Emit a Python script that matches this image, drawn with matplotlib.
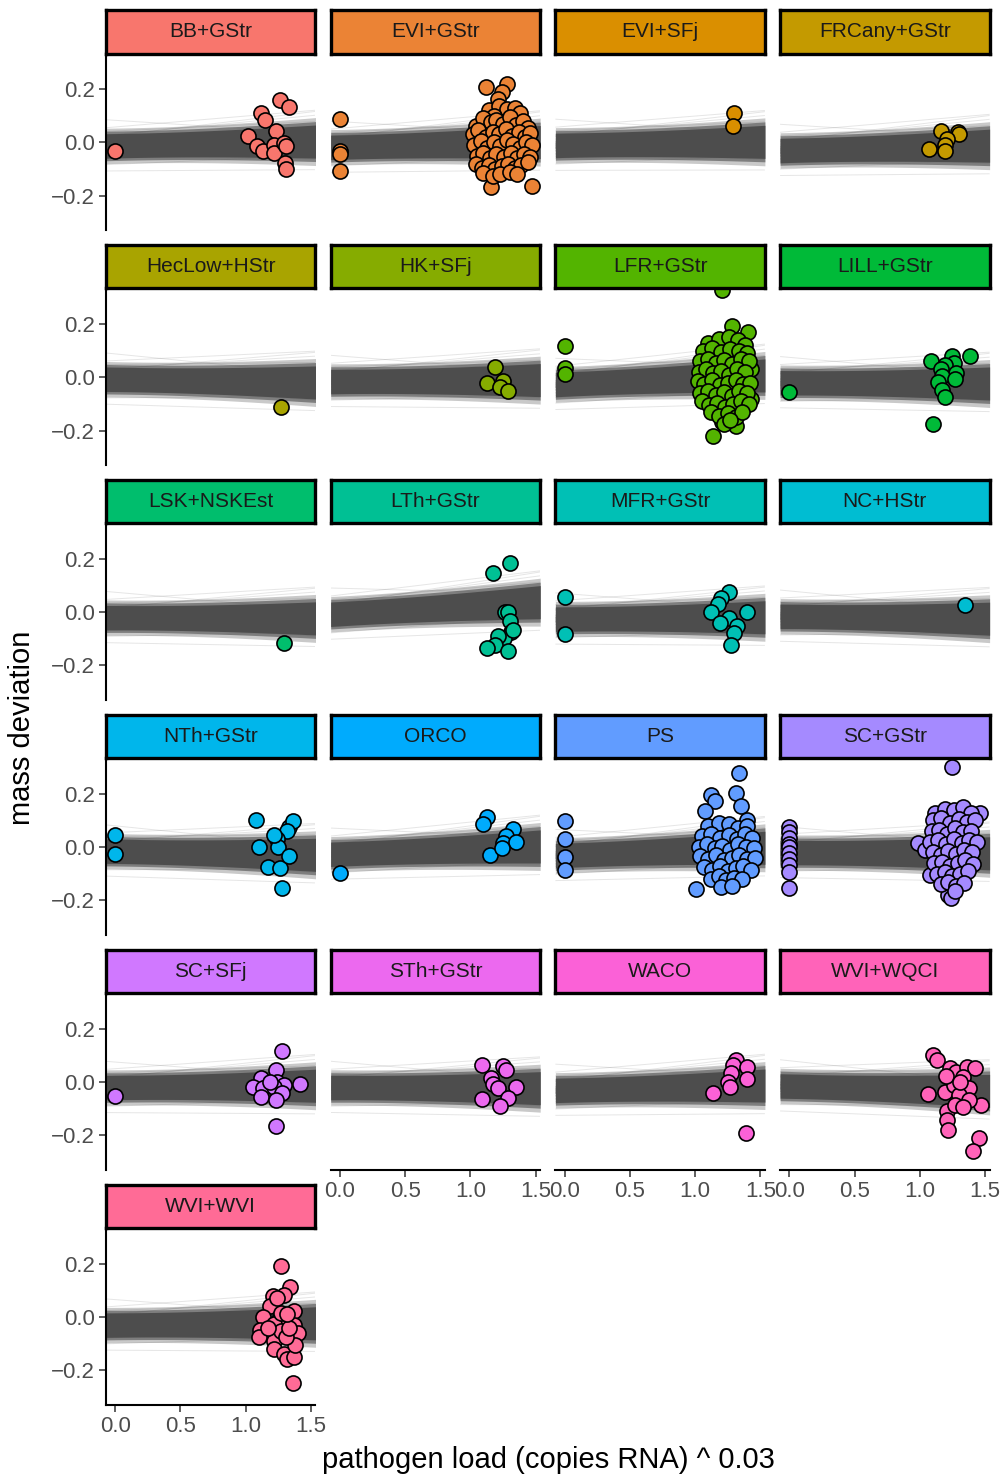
import numpy as np
import matplotlib
matplotlib.use("Agg")
import matplotlib.pyplot as plt
from matplotlib.collections import LineCollection

plt.rcParams["font.family"] = ["Liberation Sans", "DejaVu Sans"]

groups = ["BB+GStr", "EVI+GStr", "EVI+SFj", "FRCany+GStr", "HecLow+HStr", "HK+SFj",
          "LFR+GStr", "LILL+GStr", "LSK+NSKEst", "LTh+GStr", "MFR+GStr", "NC+HStr",
          "NTh+GStr", "ORCO", "PS", "SC+GStr", "SC+SFj", "STh+GStr", "WACO",
          "WVI+WQCI", "WVI+WVI"]

# observed points (pathogen load ^ 0.03, mass deviation)
bb_gstr = [(0.0, -0.032), (1.02, 0.023), (1.09, -0.014), (1.13, -0.032), (1.12, 0.112),
           (1.145, 0.083), (1.23, 0.044), (1.26, 0.159), (1.33, 0.132), (1.22, -0.010),
           (1.22, -0.038), (1.29, -0.001), (1.31, -0.014), (1.30, -0.078), (1.31, -0.10)]
evi_gstr = [(0.0, 0.089), (0.0, -0.032), (0.0, -0.044), (0.0, -0.106),
            (1.12, 0.209), (1.28, 0.221), (1.24, 0.19), (1.21, 0.162), (1.16, -0.168), (1.47, -0.164),
            (1.14, 0.12), (1.22, 0.135), (1.28, 0.125), (1.34, 0.13), (1.38, 0.11), (1.18, 0.10),
            (1.04, 0.06), (1.10, 0.09), (1.16, 0.075), (1.20, 0.085), (1.25, 0.07), (1.30, 0.095),
            (1.35, 0.065), (1.40, 0.08), (1.44, 0.055),
            (1.02, 0.03), (1.06, 0.045), (1.12, 0.02), (1.17, 0.04), (1.22, 0.03), (1.27, 0.05),
            (1.32, 0.025), (1.37, 0.04), (1.42, 0.02), (1.46, 0.035),
            (1.03, -0.01), (1.08, 0.005), (1.13, -0.02), (1.18, 0.0), (1.23, -0.015), (1.28, 0.01),
            (1.33, -0.005), (1.38, -0.02), (1.43, 0.0), (1.47, -0.01),
            (1.05, -0.05), (1.10, -0.04), (1.15, -0.06), (1.20, -0.045), (1.26, -0.055), (1.31, -0.04),
            (1.36, -0.06), (1.41, -0.045), (1.46, -0.055),
            (1.04, -0.08), (1.09, -0.095), (1.14, -0.085), (1.19, -0.1), (1.24, -0.09), (1.29, -0.08),
            (1.34, -0.095), (1.39, -0.085), (1.44, -0.075),
            (1.10, -0.115), (1.17, -0.125), (1.23, -0.12), (1.30, -0.11), (1.36, -0.12)]
evi_sfj = [(1.30, 0.112), (1.29, 0.060)]
frcany_gstr = [(1.16, 0.043), (1.29, 0.041), (1.30, 0.030), (1.21, 0.014), (1.07, -0.026),
               (1.19, -0.009), (1.19, -0.033)]
heclow_hstr = [(1.27, -0.112)]
hk_sfj = [(1.185, 0.038), (1.125, -0.020), (1.25, -0.014), (1.225, -0.038), (1.285, -0.051)]
lfr_gstr = [(0.0, 0.119), (0.0, 0.036), (0.0, 0.011),
            (1.21, 0.328), (1.136, -0.22), (1.284, 0.193), (1.405, 0.172), (1.317, -0.184),
            (1.204, -0.168), (1.43, 0.03), (1.425, -0.081),
            (1.10, 0.13), (1.18, 0.145), (1.26, 0.15), (1.33, 0.14), (1.38, 0.12),
            (1.06, 0.10), (1.13, 0.11), (1.20, 0.095), (1.27, 0.105), (1.34, 0.10), (1.40, 0.09),
            (1.04, 0.06), (1.10, 0.07), (1.16, 0.055), (1.22, 0.065), (1.28, 0.05), (1.35, 0.07), (1.41, 0.06),
            (1.03, 0.02), (1.08, 0.03), (1.14, 0.015), (1.20, 0.025), (1.26, 0.01), (1.32, 0.03), (1.38, 0.02),
            (1.02, -0.015), (1.07, -0.025), (1.13, -0.01), (1.19, -0.03), (1.25, -0.02), (1.31, -0.01),
            (1.37, -0.025), (1.42, -0.02),
            (1.04, -0.06), (1.10, -0.05), (1.16, -0.065), (1.22, -0.055), (1.28, -0.07), (1.34, -0.05), (1.40, -0.06),
            (1.05, -0.09), (1.11, -0.105), (1.17, -0.095), (1.23, -0.11), (1.29, -0.1), (1.35, -0.09), (1.41, -0.1),
            (1.12, -0.13), (1.18, -0.145), (1.25, -0.135), (1.31, -0.15), (1.36, -0.13),
            (1.22, -0.175), (1.27, -0.16)]
lill_gstr = [(0.0, -0.057), (1.085, 0.060), (1.385, 0.081), (1.25, 0.079), (1.26, 0.054), (1.19, 0.048),
             (1.28, 0.017), (1.16, 0.030), (1.17, 0.005), (1.27, -0.007), (1.14, -0.017), (1.17, -0.048),
             (1.19, -0.075), (1.10, -0.174)]
lsk_nskest = [(1.29, -0.114)]
lth_gstr = [(1.175, 0.147), (1.30, 0.183), (1.265, 0.001), (1.29, 0.001), (1.30, -0.033), (1.315, -0.073),
            (1.26, -0.098), (1.21, -0.091), (1.19, -0.122), (1.125, -0.135), (1.29, -0.144), (1.33, -0.067)]
mfr_gstr = [(0.0, 0.057), (0.0, -0.081), (1.26, 0.075), (1.20, 0.053), (1.175, 0.032), (1.125, -0.001),
            (1.40, -0.001), (1.26, -0.023), (1.19, -0.042), (1.325, -0.051), (1.30, -0.079), (1.275, -0.125)]
nc_hstr = [(1.35, 0.026)]
nth_gstr = [(0.0, 0.044), (0.0, -0.027), (1.08, 0.102), (1.10, 0.001), (1.17, -0.075), (1.26, -0.079),
            (1.28, -0.153), (1.33, 0.075), (1.36, 0.097), (1.32, 0.059), (1.24, 0.032), (1.25, 0.001),
            (1.33, -0.033), (1.22, 0.044)]
orco = [(0.0, -0.098), (1.125, 0.115), (1.10, 0.085), (1.325, 0.069), (1.275, 0.041), (1.25, 0.014),
        (1.35, 0.020), (1.15, -0.030), (1.24, -0.005)]
ps = [(0.0, 0.097), (0.0, 0.032), (0.0, -0.038), (0.0, -0.085),
      (1.34, 0.279), (1.31, 0.202), (1.125, 0.196), (1.15, 0.174), (1.077, 0.137), (1.01, -0.159),
      (1.35, 0.156), (1.40, 0.100),
      (1.10, 0.08), (1.18, 0.09), (1.26, 0.085), (1.33, 0.07), (1.40, 0.08),
      (1.05, 0.04), (1.12, 0.05), (1.19, 0.035), (1.26, 0.045), (1.32, 0.03), (1.38, 0.05), (1.44, 0.035),
      (1.03, 0.0), (1.09, 0.01), (1.15, -0.005), (1.21, 0.005), (1.27, -0.01), (1.33, 0.01), (1.39, 0.0), (1.45, -0.005),
      (1.04, -0.035), (1.10, -0.045), (1.16, -0.03), (1.22, -0.05), (1.28, -0.04), (1.34, -0.03), (1.40, -0.045), (1.46, -0.04),
      (1.07, -0.075), (1.13, -0.085), (1.19, -0.07), (1.25, -0.09), (1.31, -0.08), (1.37, -0.07), (1.43, -0.085),
      (1.12, -0.12), (1.18, -0.11), (1.24, -0.125), (1.30, -0.115), (1.36, -0.12),
      (1.20, -0.15), (1.28, -0.145)]
sc_gstr = [(0.0, 0.075), (0.0, 0.055), (0.0, 0.034), (0.0, 0.010), (0.0, -0.001), (0.0, -0.021),
           (0.0, -0.045), (0.0, -0.067), (0.0, -0.095), (0.0, -0.153),
           (1.25, 0.30), (1.46, 0.127), (0.99, 0.014), (1.04, -0.009), (1.08, -0.104), (1.22, -0.178),
           (1.12, 0.13), (1.19, 0.145), (1.26, 0.14), (1.33, 0.15), (1.39, 0.13),
           (1.10, 0.10), (1.16, 0.11), (1.23, 0.09), (1.30, 0.105), (1.36, 0.095), (1.42, 0.1),
           (1.09, 0.06), (1.15, 0.065), (1.21, 0.05), (1.27, 0.07), (1.33, 0.055), (1.39, 0.06),
           (1.08, 0.02), (1.14, 0.025), (1.20, 0.01), (1.26, 0.03), (1.32, 0.015), (1.38, 0.025), (1.44, 0.02),
           (1.10, -0.02), (1.16, -0.03), (1.22, -0.015), (1.28, -0.025), (1.34, -0.01), (1.40, -0.02),
           (1.11, -0.06), (1.17, -0.055), (1.23, -0.07), (1.29, -0.06), (1.35, -0.05), (1.41, -0.065),
           (1.13, -0.1), (1.19, -0.095), (1.25, -0.11), (1.31, -0.1), (1.37, -0.09),
           (1.16, -0.14), (1.22, -0.13), (1.28, -0.145), (1.34, -0.135),
           (1.24, -0.19), (1.27, -0.165)]
sc_sfj = [(0.0, -0.052), (1.28, 0.118), (1.23, 0.044), (1.12, 0.016), (1.24, 0.001), (1.29, -0.011),
          (1.415, -0.009), (1.06, -0.017), (1.13, -0.021), (1.22, -0.017), (1.28, -0.042), (1.12, -0.058),
          (1.23, -0.067), (1.23, -0.165), (1.19, 0.001)]
sth_gstr = [(1.09, 0.063), (1.25, 0.060), (1.275, 0.044), (1.16, 0.016), (1.175, -0.009), (1.21, -0.023),
            (1.35, -0.017), (1.09, -0.063), (1.29, -0.060), (1.23, -0.091)]
waco = [(1.31, 0.081), (1.29, 0.063), (1.40, 0.057), (1.275, 0.032), (1.40, 0.011), (1.25, -0.001),
        (1.265, -0.017), (1.136, -0.040), (1.39, -0.193)]
wvi_wqci = [(1.10, 0.100), (1.135, 0.081), (1.06, -0.046), (1.19, -0.038), (1.21, -0.107), (1.21, -0.144),
            (1.22, -0.181), (1.45, -0.211), (1.41, -0.26), (1.47, -0.088), (1.23, 0.051), (1.28, 0.036),
            (1.36, 0.057), (1.42, 0.051), (1.33, 0.020), (1.26, -0.011), (1.38, -0.023), (1.30, -0.048),
            (1.38, -0.067), (1.27, -0.085), (1.33, -0.095), (1.20, 0.024), (1.31, 0.001)]
wvi_wvi = [(1.27, 0.193), (1.34, 0.114), (1.29, 0.084), (1.21, 0.078), (1.19, 0.041), (1.37, 0.022),
           (1.13, -0.002), (1.26, -0.002), (1.22, -0.025), (1.11, -0.048), (1.37, -0.030), (1.40, -0.062),
           (1.10, -0.074), (1.22, -0.089), (1.22, -0.12), (1.29, -0.138), (1.32, -0.157), (1.37, -0.151),
           (1.38, -0.107), (1.365, -0.249), (1.27, -0.052), (1.31, -0.076), (1.33, -0.040), (1.17, -0.040),
           (1.27, 0.016), (1.32, 0.010), (1.24, 0.072)]

points = [bb_gstr, evi_gstr, evi_sfj, frcany_gstr, heclow_hstr, hk_sfj, lfr_gstr, lill_gstr,
          lsk_nskest, lth_gstr, mfr_gstr, nc_hstr, nth_gstr, orco, ps, sc_gstr, sc_sfj,
          sth_gstr, waco, wvi_wqci, wvi_wvi]

# posterior draws of the regression line (shared), plus group-level shifts
draw_intercept = [-0.058, -0.046, -0.040, -0.035, -0.031, -0.028, -0.025, -0.022, -0.020, -0.018,
                  -0.016, -0.014, -0.012, -0.010, -0.008, -0.006, -0.004, -0.002, 0.000, 0.003,
                  0.006, 0.010, 0.015, 0.022, 0.032, 0.045, -0.052, -0.038, -0.029, -0.023,
                  -0.019, -0.015, -0.011, -0.007, -0.003, 0.001, 0.008, 0.018, 0.028, 0.060,
                  -0.080, -0.105, 0.085, -0.013, -0.009, -0.017, -0.005, -0.021]
draw_slope = [0.030, -0.012, 0.022, -0.026, 0.006, 0.016, -0.004, 0.011, -0.016, 0.024,
              0.001, -0.021, 0.013, -0.009, 0.019, -0.013, 0.004, -0.030, 0.008, -0.005,
              0.020, -0.018, 0.002, -0.034, 0.038, 0.014, -0.010, 0.027, 0.005, -0.023,
              0.009, 0.015, -0.007, -0.015, 0.003, -0.027, 0.018, -0.042, 0.050, 0.032,
              0.012, -0.006, -0.040, 0.007, -0.011, 0.010, -0.002, 0.017]
group_intercept = [-0.002, -0.007, 0.0, -0.019, 0.003, -0.005, -0.015, -0.010, -0.010, 0.005,
                   -0.015, -0.005, -0.005, -0.015, -0.020, -0.010, -0.010, -0.010, -0.020,
                   -0.005, -0.020]
group_slope = [0.009, 0.011, 0.007, 0.010, -0.009, 0.002, 0.020, -0.003, -0.003, 0.027,
               0.003, -0.007, -0.010, 0.017, 0.017, -0.003, 0.003, -0.003, 0.010, -0.013, 0.003]

x_ticks = [0.0, 0.5, 1.0, 1.5]
y_ticks = [-0.2, 0.0, 0.2]


def hue_color(h, c=100.0, l=65.0):
    # ggplot2 hue_pal -> R hcl()
    wx, wy, wz = 95.047, 100.0, 108.883
    hr = np.deg2rad(h)
    U, V = c * np.cos(hr), c * np.sin(hr)
    Y = wy * ((l + 16) / 116) ** 3
    t = wx + wy + wz
    x, y = wx / t, wy / t
    un = 2 * x / (6 * y - x + 1.5)
    vn = 4.5 * y / (6 * y - x + 1.5)
    u = U / (13 * l) + un
    v = V / (13 * l) + vn
    X = 9.0 * Y * u / (4 * v)
    Z = -X / 3 - 5 * Y + 3 * Y / v
    X, Y, Z = X / wy, Y / wy, Z / wy
    rgb = [3.240479 * X - 1.537150 * Y - 0.498535 * Z,
           -0.969256 * X + 1.875992 * Y + 0.041556 * Z,
           0.055648 * X - 0.204043 * Y + 1.057311 * Z]
    out = []
    for ch in rgb:
        ch = 1.055 * ch ** (1 / 2.4) - 0.055 if ch > 0.00304 else 12.92 * ch
        out.append(min(max(ch, 0.0), 1.0))
    return tuple(out)


n = len(groups)
colors = [hue_color(15 + i * 360 / n) for i in range(n)]

W, H = 1004, 1477
fig = plt.figure(figsize=(W / 100, H / 100), dpi=100)

col_left = 106
col_step = 224.7
pw = 209.5
row_top = 10
row_step = 234.9
strip_h = 43.5
ph = 176.5
xlim = (-0.07, 1.535)
ylim = (-0.329, 0.334)
line_col = "#4D4D4D"


def fig_rect(left, top, w, h):
    return [left / W, 1 - (top + h) / H, w / W, h / H]


xs = np.linspace(xlim[0], xlim[1], 40)
for i, g in enumerate(groups):
    r, c = divmod(i, 4)
    left = col_left + c * col_step
    top = row_top + r * row_step
    ax = fig.add_axes(fig_rect(left, top + strip_h, pw, ph))
    ax.set_xlim(xlim)
    ax.set_ylim(ylim)

    a = np.array(draw_intercept) + group_intercept[i]
    b = np.array(draw_slope) + group_slope[i]
    fits = a[:, None] + b[:, None] * xs[None, :]
    # thin individual draws
    segs = [np.column_stack([xs, f]) for f in fits]
    ax.add_collection(LineCollection(segs, colors=line_col, alpha=0.14, linewidths=0.7, zorder=1))
    # dense core where the draws pile up
    mid = fits.mean(axis=0)
    sd = fits.std(axis=0)
    ax.fill_between(xs, mid - 2.1 * sd, mid + 2.1 * sd, color=line_col, alpha=0.3, lw=0, zorder=1)
    ax.fill_between(xs, mid - 1.75 * sd, mid + 1.75 * sd, color=line_col, alpha=0.6, lw=0, zorder=1)
    ax.fill_between(xs, mid - 1.45 * sd, mid + 1.45 * sd, color=line_col, alpha=1.0, lw=0, zorder=1)

    pts = np.array(points[i])
    ax.scatter(pts[:, 0], pts[:, 1], s=118, facecolor=colors[i], edgecolor="black",
               linewidth=1.2, zorder=3)

    bottom_axis = (r == 5) or (r == 4 and c > 0)
    for s in ["top", "right"]:
        ax.spines[s].set_visible(False)
    ax.spines["left"].set_visible(c == 0)
    ax.spines["bottom"].set_visible(bottom_axis)
    for s in ["left", "bottom"]:
        ax.spines[s].set_linewidth(1.5)
    ax.tick_params(width=1.1, length=5, color="#333333", labelcolor="#4D4D4D",
                   labelsize=16, pad=3)
    if c == 0:
        ax.set_yticks(y_ticks)
        ax.set_yticklabels(["\u22120.2", "0.0", "0.2"])
    else:
        ax.set_yticks([])
    if bottom_axis:
        ax.set_xticks(x_ticks)
        ax.set_xticklabels(["0.0", "0.5", "1.0", "1.5"])
    else:
        ax.set_xticks([])

    sax = fig.add_axes(fig_rect(left, top, pw, strip_h))
    sax.set_facecolor(colors[i])
    sax.set_xticks([])
    sax.set_yticks([])
    for s in sax.spines.values():
        s.set_linewidth(2.4)
        s.set_color("black")
    sax.text(0.5, 0.5, g, ha="center", va="center", fontsize=15, color="#1A1A1A",
             transform=sax.transAxes)

fig.text(22 / W, 1 - 728 / H, "mass deviation", rotation=90, ha="center", va="center",
         fontsize=21, color="black")
fig.text(548 / W, 1 - 1460 / H, "pathogen load (copies RNA) ^ 0.03", ha="center",
         va="center", fontsize=21, color="black")

fig.savefig("out.png", dpi=100)
